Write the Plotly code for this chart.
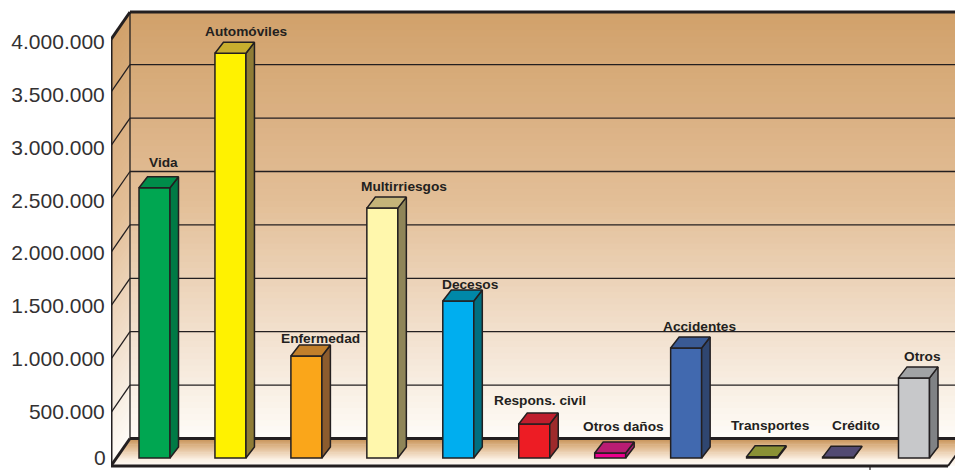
import plotly.graph_objects as go

# ---- data ----
categories = ["Vida", "Automóviles", "Enfermedad", "Multirriesgos", "Decesos", "Respons. civil",
              "Otros daños", "Accidentes", "Transportes", "Crédito", "Otros"]
values = [2530000, 3790000, 955000, 2340000, 1470000, 318000, 47000, 1030000, 12000, 6000, 750000]
tick_values = [0, 500000, 1000000, 1500000, 2000000, 2500000, 3000000, 3500000, 4000000]
tick_labels = ["0", "500.000", "1.000.000", "1.500.000", "2.000.000", "2.500.000",
               "3.000.000", "3.500.000", "4.000.000"]

# ---- style ----
front_colors = ["#00A651", "#FFF200", "#FAA61A", "#FFF7AC", "#00AEEF", "#ED1C24",
                "#EC008C", "#4169AF", "#8A9135", "#524A72", "#C7C8CA"]
side_colors = ["#007A45", "#8F7C36", "#8C5C2E", "#8F8558", "#006F80", "#9E2A2B",
               "#A3216F", "#2F4670", "#6E7430", "#3F3A5C", "#808285"]
top_colors = ["#008C4A", "#C8AE2E", "#C17F2B", "#C4B479", "#0088A8", "#BE1E2D",
              "#B91D73", "#3A5A94", "#8A9135", "#524A72", "#A1A3A5"]
label_nudges = [(9, 25), (16, 22), (14, 18), (22, 22), (12, 17), (6, 24),
                (13, 26), (13, 22), (8, 31), (18, 32), (8, 21)]
INK = "#231F20"
TICK_INK = "#333132"
W, H = 955, 470
LEFT = 111
S = 500000 / 53.4          # value per pixel on the plotting scale
STEP = 75.95               # pixels per category
X0 = 154.5                 # pixel centre of first category
BAR_W = 31 / STEP


def px(p):
    return (p - X0) / STEP


def py(p):
    return (466 - p) * S


def mix(stops, t):
    for (a, ca), (b, cb) in zip(stops, stops[1:]):
        if t <= b:
            f = (t - a) / (b - a) if b > a else 0
            return "rgb(%d,%d,%d)" % tuple(round(u + (v - u) * f) for u, v in zip(ca, cb))
    return "rgb(%d,%d,%d)" % stops[-1][1]


WALL = [(0, (209, 161, 107)), (0.45, (227, 191, 152)), (0.78, (243, 227, 210)), (1, (254, 251, 246))]
FLOOR = [(0, (200, 148, 90)), (0.35, (226, 190, 150)), (0.75, (250, 238, 224)), (1, (254, 250, 245))]

shapes = []


def poly(pts, fill=None, line=None, lw=0):
    path = "M" + " L".join(f"{px(x)},{py(y)}" for x, y in pts) + " Z"
    shapes.append(dict(type="path", path=path, xref="x", yref="y", layer="below",
                       fillcolor=fill or "rgba(0,0,0,0)",
                       line=dict(width=lw, color=line or "rgba(0,0,0,0)")))


def seg(x0, y0, x1, y1, lw=1.3):
    shapes.append(dict(type="line", x0=px(x0), y0=py(y0), x1=px(x1), y1=py(y1), xref="x", yref="y",
                       layer="below", line=dict(color=INK, width=lw)))


BX, FX = 130, 111
BT, BB = 12, 438.5
DY = 27.5
N = 70
for i in range(N):
    t = i / (N - 1)
    y0 = BT + (BB - BT) * i / N
    y1 = BB + 1 if i == N - 1 else BT + (BB - BT) * (i + 1.5) / N
    c = mix(WALL, t)
    poly([(BX, y0), (W + 5, y0), (W + 5, y1), (BX, y1)], c)
    poly([(FX, y0 + DY), (BX, y0), (BX, y1), (FX, y1 + DY)], c)
M = 24
for i in range(M):
    t = i / (M - 1)
    y0 = BB + DY * i / M
    y1 = BB + DY * (i + 1.5) / M if i < M - 1 else BB + DY
    fx0 = BX - 19 * i / M
    fx1 = BX - 19 * min(i + 1.5, M) / M
    poly([(fx0, y0), (W + 30, y0), (W + 30, y1), (fx1, y1)], mix(FLOOR, t))

# grid lines drawn from the axis values on the back wall and left wall
for v in tick_values[1:-1]:
    yb = 438.5 - v / S
    seg(BX, yb, W + 5, yb)
    seg(BX, yb, FX, yb + DY)
seg(BX, BT, BX, BB)
seg(BX, BT, W + 5, BT, 3)
seg(BX, BB, W + 5, BB, 3)
seg(FX, BT + DY, BX, BT, 3)
seg(FX, BT + DY, FX, BB + DY, 3)
seg(FX, BB + DY, BX, BB, 3)
seg(FX, 466, 948, 466, 3)
seg(948, 466, 968, 438.5, 2)
seg(870, 466, 870, 472, 1.2)

fig = go.Figure()

BASE = 8 * S
DX_IDX = 8.5 / STEP
DY_VAL = 11 * S
annotations = []
for i, (name, v) in enumerate(zip(categories, values)):
    L, R = i - BAR_W / 2, i + BAR_W / 2
    T, B = BASE + v, BASE
    fig.add_trace(go.Bar(x=[i], y=[v], base=[BASE], width=[BAR_W], marker=dict(color=front_colors[i],
                         line=dict(color=INK, width=1.5)), showlegend=False, hoverinfo="skip"))
    fig.add_trace(go.Scatter(x=[R, R + DX_IDX, R + DX_IDX, R, R], y=[B, B + DY_VAL, T + DY_VAL, T, B],
                             mode="lines", fill="toself", fillcolor=side_colors[i],
                             line=dict(color=INK, width=1.5), showlegend=False, hoverinfo="skip"))
    fig.add_trace(go.Scatter(x=[L, L + DX_IDX, R + DX_IDX, R, L], y=[T, T + DY_VAL, T + DY_VAL, T, T],
                             mode="lines", fill="toself", fillcolor=top_colors[i],
                             line=dict(color=INK, width=1.5), showlegend=False, hoverinfo="skip"))
    nx, ny = label_nudges[i]
    annotations.append(dict(x=i, y=T, xref="x", yref="y", text=f"<b>{name}</b>", showarrow=False,
                            xshift=nx, yshift=ny, font=dict(family="Liberation Sans", size=13.7, color=INK)))

# invisible trace that brings the tick-label axis to life
fig.add_trace(go.Scatter(x=[0] * len(tick_values), y=tick_values, yaxis="y2", mode="markers",
                         marker=dict(opacity=0), showlegend=False, hoverinfo="skip"))

# the axis hides a label that overruns the page, so the zero label is placed on the same axis by annotation
annotations.append(dict(x=0, y=tick_values[0], xref="paper", yref="y2", text=tick_labels[0], showarrow=False,
                        xanchor="right", xshift=-4, yshift=7, borderpad=0,
                        font=dict(family="Liberation Sans", size=21, color=TICK_INK)))

s2 = 4000000 / 422
fig.update_layout(
    width=W, height=H, margin=dict(l=LEFT, r=0, t=0, b=0), autosize=False,
    paper_bgcolor="white", plot_bgcolor="white", showlegend=False, barmode="overlay",
    shapes=shapes, annotations=annotations,
    xaxis=dict(range=[px(LEFT), px(W)], visible=False),
    yaxis=dict(range=[py(H), py(0)], visible=False),
    yaxis2=dict(range=[-6 * s2, 464 * s2], overlaying="y", side="left", anchor="x",
                tickvals=tick_values, ticktext=tick_labels, showgrid=False, zeroline=False,
                showline=False, ticks="outside", ticklen=1, tickcolor="rgba(0,0,0,0)",
                tickfont=dict(family="Liberation Sans", size=21, color=TICK_INK)),
)
fig.write_html("out.html", config=dict(displayModeBar=False),
               post_script="document.body.style.margin='0';document.body.style.overflow='hidden';")
